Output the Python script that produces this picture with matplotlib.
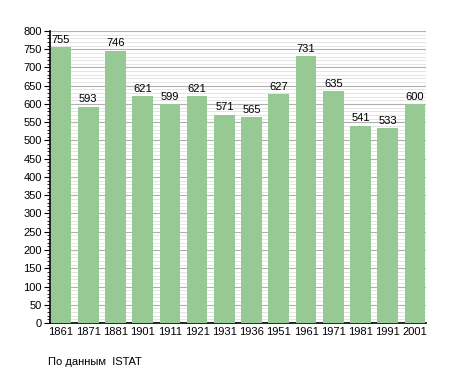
import matplotlib
matplotlib.use("Agg")
import matplotlib.pyplot as plt
from matplotlib.ticker import MultipleLocator

plt.rcParams["font.family"] = ["Liberation Sans", "DejaVu Sans"]

years = ["1861", "1871", "1881", "1901", "1911", "1921", "1931", "1936",
         "1951", "1961", "1971", "1981", "1991", "2001"]
population = [755, 593, 746, 621, 599, 621, 571, 565, 627, 731, 635, 541, 533, 600]

fig = plt.figure(figsize=(4.55, 3.73), dpi=100)
ax = fig.add_axes([0.110, 0.134, 0.826, 0.783])

x = list(range(len(years)))
ax.bar(x, population, width=0.76, color="#96c994", zorder=3)
for xi, v in zip(x, population):
    ax.text(xi, v + 6, str(v), ha="center", va="bottom", fontsize=8, zorder=4)

ax.set_xlim(-0.4, len(years) - 0.6)
ax.set_ylim(0, 800)
ax.yaxis.set_major_locator(MultipleLocator(50))
ax.yaxis.set_minor_locator(MultipleLocator(10))
ax.grid(axis="y", which="major", color="#b0b0b0", linewidth=0.8, zorder=0)
ax.grid(axis="y", which="minor", color="#e0e0e0", linewidth=0.6, zorder=0)
ax.set_xticks(x)
ax.set_xticklabels(years)
ax.tick_params(axis="x", length=0, labelsize=8, pad=3)
ax.tick_params(axis="y", which="major", length=4, labelsize=8, pad=2)
ax.tick_params(axis="y", which="minor", length=2)
for s in ["top", "right"]:
    ax.spines[s].set_visible(False)
ax.spines["left"].set_linewidth(1.2)
ax.spines["bottom"].set_linewidth(1.2)

fig.text(48 / 455, 1 - 362 / 373, "По данным  ISTAT", fontsize=8, va="center", ha="left")

fig.savefig("out.png", dpi=100)
